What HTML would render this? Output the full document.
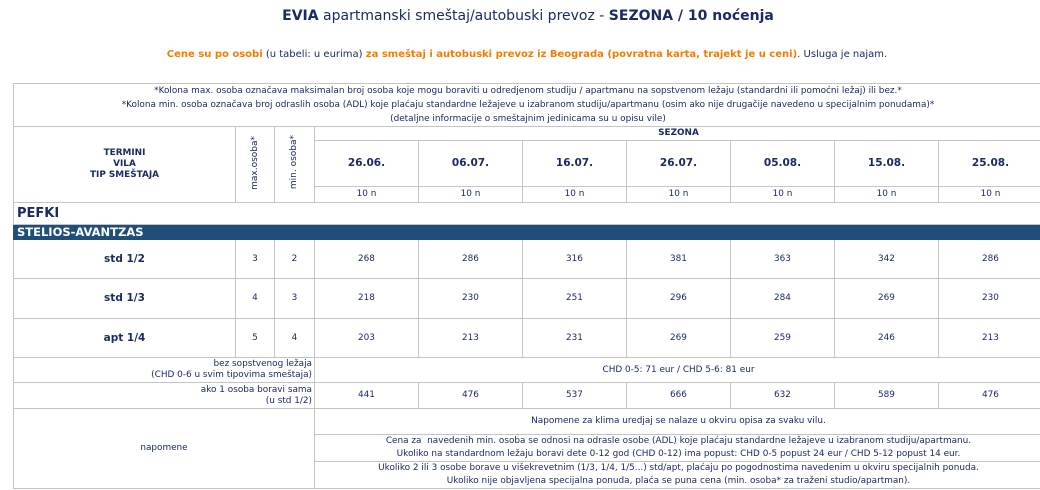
<!DOCTYPE html>
<html><head><meta charset="utf-8"><style>
html,body{margin:0;padding:0;background:#fff;width:1040px;height:490px;overflow:hidden}
body{font-family:"DejaVu Sans","Liberation Sans",sans-serif;color:#1b2a63;position:relative}
.t1{position:absolute;top:7px;left:0;width:1056px;text-align:center;font-size:14px;line-height:18px;white-space:nowrap}
.t2{position:absolute;top:48px;left:0;width:1054px;text-align:center;font-size:10px;line-height:14px;white-space:nowrap;color:#1b2a63}
.o{color:#f07d00;font-weight:bold}
table{position:absolute;top:83px;left:13px;border-collapse:collapse;table-layout:fixed;width:1029px}
td{border:1px solid #c4c4c4;padding:0;font-size:8.9px;text-align:center;vertical-align:middle;line-height:11px;white-space:nowrap;overflow:hidden}
.b{font-weight:bold}
.bd{font-weight:bold;font-size:10.5px}
.vt{writing-mode:vertical-rl;transform:rotate(180deg);font-size:9px}
.r{text-align:right;padding-right:2px}
.bar td{background:#1f4e79;color:#fff;font-weight:bold;font-size:11.5px;text-align:left;padding-left:3px;border-color:#1f4e79}
.pf td{border-left:1px solid #c4c4c4;border-right:none;text-align:left;font-weight:bold;font-size:13px;padding-left:3px}
</style></head><body>
<div class="t1"><b>EVIA</b> apartmanski smeštaj/autobuski prevoz - <b>SEZONA / 10 noćenja</b></div>
<div class="t2"><span class="o">Cene su po osobi</span> (u tabeli: u eurima) <span class="o">za smeštaj i autobuski prevoz iz Beograda (povratna karta, trajekt je u ceni)</span>. Usluga je najam.</div>
<table>
<colgroup><col style="width:222px"><col style="width:39px"><col style="width:40px"><col style="width:104px"><col style="width:104px"><col style="width:104px"><col style="width:104px"><col style="width:104px"><col style="width:104px"><col style="width:104px"></colgroup>
<tr style="height:43px"><td colspan="10" style="line-height:14px">*Kolona max. osoba označava maksimalan broj osoba koje mogu boraviti u odredjenom studiju / apartmanu na sopstvenom ležaju (standardni ili pomoćni ležaj) ili bez.*<br>*Kolona min. osoba označava broj odraslih osoba (ADL) koje plaćaju standardne ležajeve u izabranom studiju/apartmanu (osim ako nije drugačije navedeno u specijalnim ponudama)*<br>(detaljne informacije o smeštajnim jedinicama su u opisu vile)</td></tr>
<tr style="height:14px"><td rowspan="3" class="b">TERMINI<br>VILA<br>TIP SMEŠTAJA</td><td rowspan="3"><span class="vt">max.osoba*</span></td><td rowspan="3"><span class="vt">min. osoba*</span></td><td colspan="7" class="b">SEZONA</td></tr>
<tr style="height:46px"><td class="bd">26.06.</td><td class="bd">06.07.</td><td class="bd">16.07.</td><td class="bd">26.07.</td><td class="bd">05.08.</td><td class="bd">15.08.</td><td class="bd">25.08.</td></tr>
<tr style="height:16px"><td>10 n</td><td>10 n</td><td>10 n</td><td>10 n</td><td>10 n</td><td>10 n</td><td>10 n</td></tr>
<tr class="pf" style="height:22px"><td colspan="10">PEFKI</td></tr>
<tr class="bar" style="height:15px"><td colspan="10">STELIOS-AVANTZAS</td></tr>
<tr style="height:39px"><td class="bd">std 1/2</td><td>3</td><td>2</td><td>268</td><td>286</td><td>316</td><td>381</td><td>363</td><td>342</td><td>286</td></tr>
<tr style="height:40px"><td class="bd">std 1/3</td><td>4</td><td>3</td><td>218</td><td>230</td><td>251</td><td>296</td><td>284</td><td>269</td><td>230</td></tr>
<tr style="height:39px"><td class="bd">apt 1/4</td><td>5</td><td>4</td><td>203</td><td>213</td><td>231</td><td>269</td><td>259</td><td>246</td><td>213</td></tr>
<tr style="height:25px"><td colspan="3" class="r">bez sopstvenog ležaja<br>(CHD 0-6 u svim tipovima smeštaja)</td><td colspan="7">CHD 0-5: 71 eur / CHD 5-6: 81 eur</td></tr>
<tr style="height:26px"><td colspan="3" class="r">ako 1 osoba boravi sama<br>(u std 1/2)</td><td>441</td><td>476</td><td>537</td><td>666</td><td>632</td><td>589</td><td>476</td></tr>
<tr style="height:26px"><td colspan="3" rowspan="3">napomene</td><td colspan="7">Napomene za klima uredjaj se nalaze u okviru opisa za svaku vilu.</td></tr>
<tr style="height:26px"><td colspan="7" style="line-height:13px">Cena za &nbsp;navedenih min. osoba se odnosi na odrasle osobe (ADL) koje plaćaju standardne ležajeve u izabranom studiju/apartmanu.<br>Ukoliko na standardnom ležaju boravi dete 0-12 god (CHD 0-12) ima popust: CHD 0-5 popust 24 eur / CHD 5-12 popust 14 eur.</td></tr>
<tr style="height:27px"><td colspan="7" style="line-height:13px">Ukoliko 2 ili 3 osobe borave u višekrevetnim (1/3, 1/4, 1/5...) std/apt, plaćaju po pogodnostima navedenim u okviru specijalnih ponuda.<br>Ukoliko nije objavljena specijalna ponuda, plaća se puna cena (min. osoba* za traženi studio/apartman).</td></tr>
</table>
</body></html>
